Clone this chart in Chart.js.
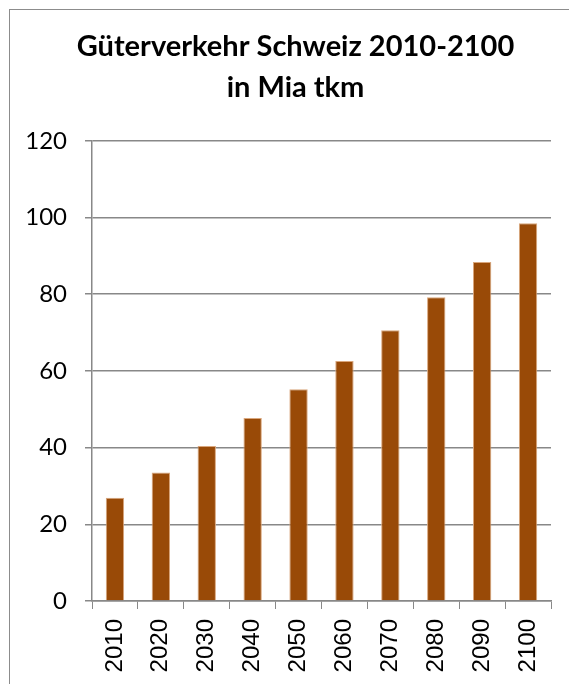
<!DOCTYPE html>
<html>
<head>
<meta charset="utf-8">
<script src="https://cdn.jsdelivr.net/npm/chart.js@4/dist/chart.umd.min.js"></script>
<style>
  html, body { margin: 0; padding: 0; background: #fff; }
  #wrap { position: relative; width: 569px; height: 684px; overflow: hidden; }
  #frame { position: absolute; left: 9px; top: 9px; width: 600px; height: 700px;
           border-left: 1.5px solid #8c8c8c; border-top: 1.5px solid #8c8c8c; }
  canvas { position: absolute; left: 0; top: 0; }
</style>
</head>
<body>
<div id="wrap">
  <div id="frame"></div>
  <canvas id="c" width="569" height="684"></canvas>
</div>
<script>
const titleLines = ["Güterverkehr Schweiz 2010-2100", "in Mia tkm"];
const years = ["2010", "2020", "2030", "2040", "2050", "2060", "2070", "2080", "2090", "2100"];
const values = [26.9, 33.5, 40.4, 47.7, 55.2, 62.6, 70.6, 79.2, 88.4, 98.5];
const yMin = 0, yMax = 120, yStep = 20;

// shift the title block so it is centred over the framed area
const titleShift = {
  id: 'titleShift',
  afterLayout(chart) {
    if (chart.titleBlock) { chart.titleBlock.left = 40; chart.titleBlock.right = 551; }
  }
};

new Chart(document.getElementById('c'), {
  type: 'bar',
  data: {
    labels: years,
    datasets: [{
      data: values,
      backgroundColor: '#994a07',
      borderColor: '#d9a67c',
      borderWidth: 1,
      barPercentage: 0.4,
      categoryPercentage: 1.0
    }]
  },
  plugins: [titleShift],
  options: {
    responsive: false,
    animation: false,
    devicePixelRatio: 1,
    layout: { padding: { left: 0, right: 18, top: 18, bottom: 0 } },
    plugins: {
      legend: { display: false },
      tooltip: { enabled: false },
      title: {
        display: true,
        text: titleLines,
        color: '#000',
        font: { family: 'Lato', size: 29, weight: 'bold', lineHeight: 1.41 },
        padding: { top: 8, bottom: 33 }
      }
    },
    scales: {
      x: {
        offset: true,
        grid: { display: true, drawOnChartArea: false, drawTicks: true, tickLength: 8, color: '#888', offset: true },
        border: { display: true, color: '#888', width: 1.5 },
        ticks: {
          color: '#000',
          font: { family: 'Liberation Sans', size: 24 },
          maxRotation: 90, minRotation: 90,
          padding: 10,
          autoSkip: false
        },
        afterFit: (s) => { s.height = 83; }
      },
      y: {
        min: yMin, max: yMax,
        grid: { color: '#888', lineWidth: 1.5, tickLength: 7, drawTicks: true },
        border: { display: true, color: '#888', width: 1.5 },
        ticks: {
          stepSize: yStep,
          color: '#000',
          font: { family: 'Lato', size: 24 },
          padding: 18
        },
        afterFit: (s) => { s.width = 92; }
      }
    }
  }
});
</script>
</body>
</html>
